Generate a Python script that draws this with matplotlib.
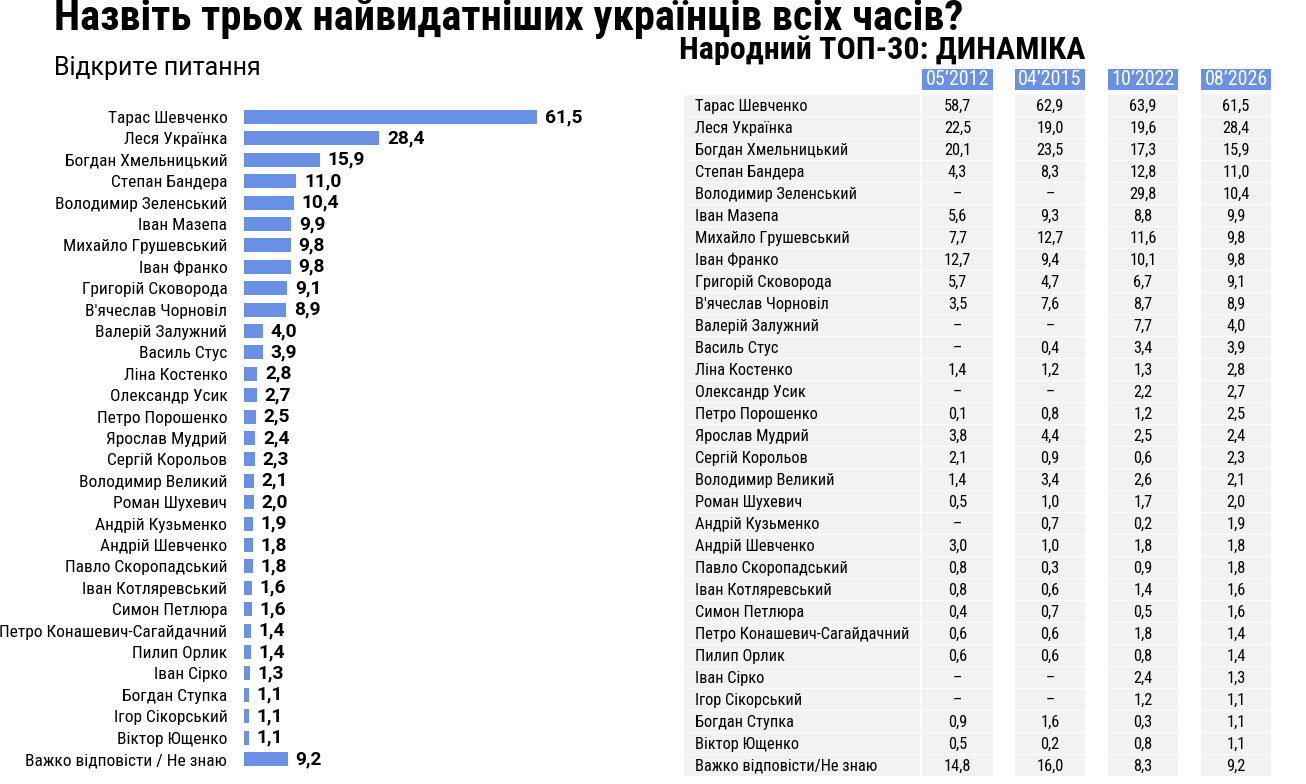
import matplotlib
matplotlib.use("Agg")
import matplotlib.pyplot as plt
from matplotlib import font_manager
from matplotlib.patches import Rectangle

# Вузький шрифт, якщо є
available = {f.name for f in font_manager.fontManager.ttflist}
narrow = next((f for f in ['Roboto Condensed', 'Liberation Sans Narrow',
                           'Roboto', 'DejaVu Sans'] if f in available))
plt.rcParams['font.family'] = [narrow, 'DejaVu Sans']

# Дані: ліва діаграма (відкрите питання, 08'2026)
bar_names = ["Тарас Шевченко", "Леся Українка", "Богдан Хмельницький",
             "Степан Бандера", "Володимир Зеленський", "Іван Мазепа",
             "Михайло Грушевський", "Іван Франко", "Григорій Сковорода",
             "В'ячеслав Чорновіл", "Валерій Залужний", "Василь Стус",
             "Ліна Костенко", "Олександр Усик", "Петро Порошенко",
             "Ярослав Мудрий", "Сергій Корольов", "Володимир Великий",
             "Роман Шухевич", "Андрій Кузьменко", "Андрій Шевченко",
             "Павло Скоропадський", "Іван Котляревський", "Симон Петлюра",
             "Петро Конашевич-Сагайдачний", "Пилип Орлик", "Іван Сірко",
             "Богдан Ступка", "Ігор Сікорський", "Віктор Ющенко",
             "Важко відповісти / Не знаю"]
bar_values = [61.5, 28.4, 15.9, 11.0, 10.4, 9.9, 9.8, 9.8, 9.1, 8.9, 4.0,
              3.9, 2.8, 2.7, 2.5, 2.4, 2.3, 2.1, 2.0, 1.9, 1.8, 1.8, 1.6,
              1.6, 1.4, 1.4, 1.3, 1.1, 1.1, 1.1, 9.2]

# Дані: таблиця динаміки
table_names = ["Тарас Шевченко", "Леся Українка", "Богдан Хмельницький",
               "Степан Бандера", "Володимир Зеленський", "Іван Мазепа",
               "Михайло Грушевський", "Іван Франко", "Григорій Сковорода",
               "В'ячеслав Чорновіл", "Валерій Залужний", "Василь Стус",
               "Ліна Костенко", "Олександр Усик", "Петро Порошенко",
               "Ярослав Мудрий", "Сергій Корольов", "Володимир Великий",
               "Роман Шухевич", "Андрій Кузьменко", "Андрій Шевченко",
               "Павло Скоропадський", "Іван Котляревський", "Симон Петлюра",
               "Петро Конашевич-Сагайдачний", "Пилип Орлик", "Іван Сірко",
               "Ігор Сікорський", "Богдан Ступка", "Віктор Ющенко",
               "Важко відповісти/Не знаю"]
waves = ["05'2012", "04'2015", "10'2022", "08'2026"]
v2012 = ["58,7", "22,5", "20,1", "4,3", "–", "5,6", "7,7", "12,7", "5,7",
         "3,5", "–", "–", "1,4", "–", "0,1", "3,8", "2,1", "1,4", "0,5", "–",
         "3,0", "0,8", "0,8", "0,4", "0,6", "0,6", "–", "–", "0,9", "0,5",
         "14,8"]
v2015 = ["62,9", "19,0", "23,5", "8,3", "–", "9,3", "12,7", "9,4", "4,7",
         "7,6", "–", "0,4", "1,2", "–", "0,8", "4,4", "0,9", "3,4", "1,0",
         "0,7", "1,0", "0,3", "0,6", "0,7", "0,6", "0,6", "–", "–", "1,6",
         "0,2", "16,0"]
v2022 = ["63,9", "19,6", "17,3", "12,8", "29,8", "8,8", "11,6", "10,1",
         "6,7", "8,7", "7,7", "3,4", "1,3", "2,2", "1,2", "2,5", "0,6", "2,6",
         "1,7", "0,2", "1,8", "0,9", "1,4", "0,5", "1,8", "0,8", "2,4", "1,2",
         "0,3", "0,8", "8,3"]
v2026 = ["61,5", "28,4", "15,9", "11,0", "10,4", "9,9", "9,8", "9,8", "9,1",
         "8,9", "4,0", "3,9", "2,8", "2,7", "2,5", "2,4", "2,3", "2,1", "2,0",
         "1,9", "1,8", "1,8", "1,6", "1,6", "1,4", "1,4", "1,3", "1,1", "1,1",
         "1,1", "9,2"]
columns = [v2012, v2015, v2022, v2026]

BLUE = '#6a91e3'
GRAY = '#f2f2f2'
W, H = 1306, 784

fig = plt.figure(figsize=(W / 100, H / 100), dpi=100)


def box(x0, y0, x1, y1):
    """Прямокутник у пікселях (від верхнього лівого кута) -> частки фігури."""
    return [x0 / W, 1 - y1 / H, (x1 - x0) / W, (y1 - y0) / H]


fig.text(54 / W, 1 - 30 / H, "Назвіть трьох найвидатніших українців всіх часів?",
         fontsize=30.6, fontweight='bold', va='baseline', ha='left')
fig.text(54 / W, 1 - 75 / H, "Відкрите питання", fontsize=18,
         va='baseline', ha='left', family=['Roboto', 'DejaVu Sans'])
fig.text(679 / W, 1 - 59 / H, "Народний ТОП-30: ДИНАМІКА", fontsize=23,
         fontweight='bold', va='baseline', ha='left')

# Ліва діаграма
n = len(bar_values)
pitch = (759 - 117) / (n - 1)
scale = (537 - 244) / 61.5
ax = fig.add_axes(box(244, 117 - pitch / 2, 640, 759 + pitch / 2))
ax.barh(range(n), bar_values, height=0.66, color=BLUE)
ax.set_ylim(n - 0.5, -0.5)
ax.set_xlim(0, (640 - 244) / scale)
ax.set_yticks(range(n))
ax.set_yticklabels(bar_names, fontsize=12.5)
ax.tick_params(axis='y', length=0, pad=12)
ax.set_xticks([])
for s in ax.spines.values():
    s.set_visible(False)
for i, v in enumerate(bar_values):
    ax.text(v + 1.6, i, f"{v:.1f}".replace('.', ','), va='center',
            ha='left', fontsize=13.8, fontweight='bold',
            family=['Roboto', 'DejaVu Sans'])

# Таблиця
name_col = (684, 920)
val_cols = [(922, 993), (1015, 1085), (1108, 1178), (1201, 1271)]
row_top = 106 - 11
tax = fig.add_axes(box(684, 66, 1271, row_top + 22 * n))
tax.set_xlim(684, 1271)
tax.set_ylim(n, -(row_top - 66) / 22)
tax.axis('off')

# шапка
hdr_top = -(row_top - 69) / 22
for (x0, x1), wave in zip(val_cols, waves):
    tax.add_patch(Rectangle((x0, hdr_top), x1 - x0, 21 / 22, color=BLUE,
                            lw=0))
    tax.text((x0 + x1) / 2, hdr_top + 10.5 / 22, wave.replace("'", "’"),
             color='white', fontsize=14.5, ha='center', va='center')

for i, name in enumerate(table_names):
    tax.add_patch(Rectangle((name_col[0], i), name_col[1] - name_col[0],
                            20.5 / 22, color=GRAY, lw=0))
    tax.text(name_col[0] + 11, i + 0.5, name, fontsize=11.8, ha='left',
             va='center')
    for (x0, x1), col in zip(val_cols, columns):
        tax.add_patch(Rectangle((x0, i), x1 - x0, 20.5 / 22, color=GRAY,
                                lw=0))
        tax.text((x0 + x1) / 2, i + 0.5, col[i], fontsize=11.8,
                 ha='center', va='center')

fig.savefig('out.png', dpi=100)
